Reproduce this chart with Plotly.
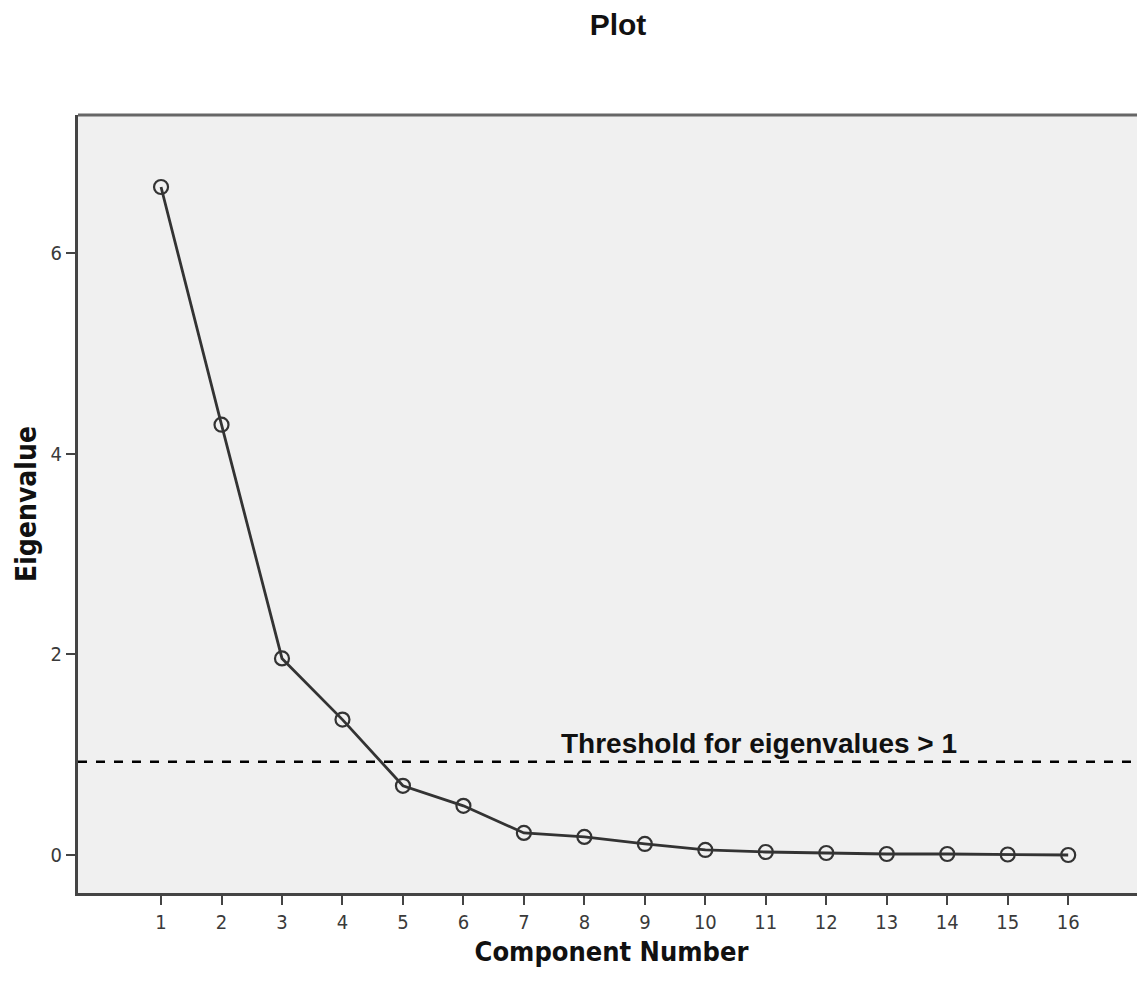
import plotly.graph_objects as go

components = list(range(1, 17))
eigenvalues = [6.66, 4.29, 1.96, 1.35, 0.69, 0.49, 0.22, 0.18, 0.11, 0.05, 0.03, 0.02, 0.01, 0.01, 0.005, 0.0]
threshold = 0.93
threshold_label = "Threshold for eigenvalues > 1"
x_ticks = components
y_ticks = [0, 2, 4, 6]

fig = go.Figure()
fig.add_trace(go.Scatter(
    x=components, y=eigenvalues, mode="lines+markers",
    line=dict(color="#333333", width=2.8),
    marker=dict(symbol="circle-open", size=14, color="#333333", line=dict(width=2.2)),
    showlegend=False, hoverinfo="x+y",
))
fig.add_hline(y=threshold, line=dict(color="black", width=2.5, dash="dash"))
fig.add_annotation(x=10.89, y=threshold, yshift=1, yanchor="bottom",
                   text="<b>" + threshold_label + "</b>",
                   showarrow=False, font=dict(family="Liberation Sans, Arial", size=28, color="#111111"))

fig.update_layout(
    width=1137, height=990,
    margin=dict(l=70, r=0, t=107, b=105),
    paper_bgcolor="white", plot_bgcolor="#f0f0f0",
    title=dict(text="<b>Plot</b>", x=0.5365, xanchor="center", y=0.983, yanchor="middle",
               font=dict(family="Liberation Sans, Arial", size=30, color="#111111")),
    xaxis=dict(range=[-0.373, 17.27], tickvals=x_ticks, ticks="outside", ticklen=9, tickwidth=2,
               tickcolor="#444", showline=True, linecolor="#444", linewidth=3, mirror=False,
               showgrid=False, zeroline=False,
               tickfont=dict(family="DejaVu Sans Condensed", size=20, color="#3a3a3a"),
               title=dict(text="<b>Component Number</b>", standoff=10,
                          font=dict(family="DejaVu Sans Condensed", size=27, color="#111"))),
    yaxis=dict(range=[-0.379, 7.378], tickvals=y_ticks, ticks="outside", ticklen=9, tickwidth=2,
               tickcolor="#444", showline=True, linecolor="#444", linewidth=3,
               showgrid=False, zeroline=False,
               tickfont=dict(family="DejaVu Sans Condensed", size=20, color="#3a3a3a"),
               title=dict(text="<b>Eigenvalue</b>", standoff=6,
                          font=dict(family="DejaVu Sans Condensed", size=28, color="#111"))),
)
# top border
fig.add_shape(type="line", xref="paper", yref="paper", x0=0, x1=1, y0=1, y1=1,
              line=dict(color="#666", width=3))

fig.write_html("out.html")
